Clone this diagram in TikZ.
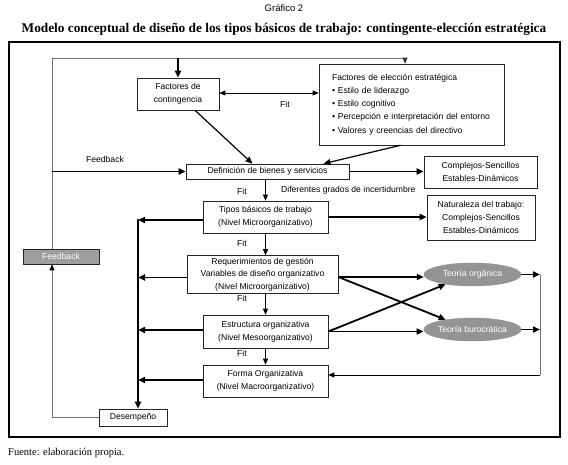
\documentclass[tikz,border=0pt]{standalone}
\usepackage{fontspec}
\setmainfont{Liberation Serif}
\setsansfont{Liberation Sans}
\usetikzlibrary{arrows.meta,shapes.geometric,calc}
\begin{document}
\begin{tikzpicture}[x=1pt,y=-1pt,
  txt/.style={font=\sffamily\fontsize{8.6}{13.2}\selectfont},
  box/.style={txt,draw=black!85,line width=0.6pt,fill=white,align=center,inner sep=0pt},
  gbox/.style={box,fill=black!38,text=white},
  gell/.style={ellipse,draw=black!45,fill=black!42,text=white,txt,inner sep=0pt,minimum width=97pt,minimum height=23pt},
  thick arr/.style={line width=1.8pt,-{Triangle[length=7pt,width=6pt]}},
  med arr/.style={line width=1.2pt,-{Triangle[length=7pt,width=6pt]}},
  thin arr/.style={line width=0.7pt,-{Triangle[length=6pt,width=5pt]}},
  gline/.style={line width=0.7pt,draw=black!55},
  lab/.style={txt,inner sep=0pt}
]
\useasboundingbox (0,0) rectangle (568,465);
% titles
\node[lab,font=\sffamily\fontsize{9.5}{11}\selectfont] (gtitle) at (284,8) {Gráfico 2};
\node[inner sep=0pt,font=\rmfamily\bfseries\fontsize{13.3}{15}\selectfont] (mtitle) at (284,29) {Modelo conceptual de diseño de los tipos básicos de trabajo: contingente-elección estratégica};
\node[inner sep=0pt,anchor=west,font=\rmfamily\fontsize{10.5}{12}\selectfont] (fuente) at (8,453) {Fuente: elaboración propia.};
% frame
\draw[line width=1.6pt] (9,42) rectangle (560,437);

% boxes
\node[box,minimum width=82pt,minimum height=32pt] (cont) at (178,94) {Factores de\\contingencia};
\node[box,minimum height=81pt,text width=159pt,inner xsep=13pt,align=left] (elec) at (411.5,104.5)
  {Factores de elección estratégica\\
   • Estilo de liderazgo\\
   • Estilo cognitivo\\
   • Percepción e interpretación del entorno\\
   • Valores y creencias del directivo};
\node[box,minimum width=163pt,minimum height=15pt] (def) at (267.5,171.5) {Definición de bienes y servicios};
\node[box,minimum width=113pt,minimum height=32pt] (comp) at (480.5,172) {Complejos-Sencillos\\Estables-Dinámicos};
\node[box,minimum width=125pt,minimum height=32pt] (tipos) at (265.5,217) {Tipos básicos de trabajo\\(Nivel Microorganizativo)};
\node[box,minimum width=108pt,minimum height=45pt] (nat) at (481,217.5) {Naturaleza del trabajo:\\Complejos-Sencillos\\Estables-Dinámicos};
\node[box,minimum width=151pt,minimum height=38pt,font=\sffamily\fontsize{8.6}{12.4}\selectfont] (req) at (262.5,274.5) {Requerimientos de gestión\\Variables de diseño organizativo\\(Nivel Microorganizativo)};
\node[box,minimum width=125pt,minimum height=33pt] (est) at (265.5,331.5) {Estructura organizativa\\(Nivel Mesoorganizativo)};
\node[box,minimum width=125pt,minimum height=32pt] (forma) at (265.5,381) {Forma Organizativa\\(Nivel Macroorganizativo)};
\node[box,minimum width=68pt,minimum height=17pt] (des) at (133,417.5) {Desempeño};
\node[gbox,minimum width=76pt,minimum height=15pt] (fb) at (61,256.5) {Feedback};
\node[gell] (org) at (472.5,274.5) {Teoría orgánica};
\node[gell] (bur) at (472.5,329.5) {Teoría burocrática};

% coordinates
\coordinate (loopx) at (52,0);
\coordinate (topy) at (0,58);
\coordinate (bus) at (138,0);
\coordinate (rightx) at (540,0);

% outer feedback loop
\draw[gline] (des.west) -| ($(loopx)+(0,417.5)$);
\draw[gline,-{Triangle[length=6pt,width=5pt,color=black]}] ($(loopx)+(0,417.5)$) -- (fb.south -| loopx);
\draw[gline] (fb.north -| loopx) -- (loopx |- topy) -- ($(topy)+(405,0)$);
\draw[thin arr,draw=black!80] ($(topy)+(405,0)$) -- (elec.north -| 405,0);
\draw[thick arr] (cont.north |- topy) -- (cont.north);
\draw[thick arr] (def.west -| loopx) -- (def.west);
\node[lab] (fblab) at (105,159) {Feedback};

% fit double arrow
\draw[line width=0.7pt,{Triangle[length=6pt,width=5pt]}-{Triangle[length=6pt,width=5pt]}] ($(cont.east)+(0,-1)$) -- ($(elec.west |- cont.east)+(0,-1)$);
\node[lab] (fit0) at (285,104) {Fit};

% diagonals to def
\draw[med arr] ($(cont.south)+(17,0)$) -- ($(def.north)+(-15,0)$);
\draw[med arr] ($(elec.south)+(-11,0)$) -- ($(def.north)+(56,0)$);

% right thick arrows
\draw[thick arr] (def.east) -- (def.east -| comp.west);
\draw[thick arr] (tipos.east) -- (tipos.east -| nat.west);

% central chain
\draw[thin arr,line width=0.9pt] (def.south -| tipos.north) -- (tipos.north);
\draw[thin arr,line width=0.9pt] (tipos.south) -- (tipos.south |- req.north);
\draw[thin arr,line width=0.9pt] (req.south -| est.north) -- (est.north);
\draw[thin arr,line width=0.9pt] (est.south) -- (forma.north);
\node[lab] (fit1) at (242,191) {Fit};
\node[lab,anchor=west] (inc) at (281,190) {Diferentes grados de incertidumbre};
\node[lab] (fit2) at (242,243) {Fit};
\node[lab] (fit3) at (242,298) {Fit};
\node[lab] (fit4) at (242,353) {Fit};

% left bus
\draw[thick arr] ($(tipos.west)+(0,3)$) -- ($(bus |- tipos.west)+(0,3)$);
\draw[thick arr] ($(req.west)+(0,3)$) -- ($(bus |- req.west)+(0,3)$);
\draw[thick arr] ($(est.west)+(0,-1.5)$) -- ($(bus |- est.west)+(0,-1.5)$);
\draw[thick arr] ($(forma.west)+(0,-1)$) -- ($(bus |- forma.west)+(0,-1)$);
\draw[thick arr] ($(bus |- tipos.west)+(0,2)$) -- (bus |- des.north);

% crossing arrows
\draw[thick arr] ($(req.east)+(0,2.5)$) -- (org.west |- 0,277);
\draw[thick arr] ($(req.east)+(0,2.5)$) -- (bur.160);
\draw[thick arr] (est.east) -- (org.200);
\draw[thick arr] (est.east) -- (est.east -| bur.west);

% right return loop
\draw[thick arr] (org.east) -- (rightx |- org.east);
\draw[thick arr] (bur.east) -- (rightx |- bur.east);
\draw[gline] ($(rightx |- org.east)+(0,1)$) -- ($(rightx)+(0,375)$);
\draw[thin arr,line width=0.8pt] ($(rightx)+(0,375)$) -- ($(forma.east)+(0,-6)$);
\end{tikzpicture}
\end{document}
